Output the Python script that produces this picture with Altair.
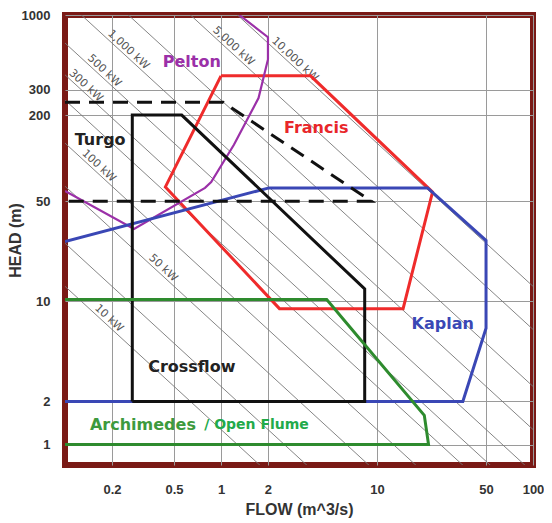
import altair as alt
import pandas as pd

# ---- turbine application envelopes (FLOW m^3/s, HEAD m) ----
pelton_q = [1.31, 2.0, 2.0, 1.74, 1.21, 0.865, 0.79, 0.277, 0.1]
pelton_h = [1000, 700, 489, 263, 124, 68, 62, 32, 59]
francis_q = [1.0, 3.75, 22.7, 14.7, 2.37, 0.44, 1.0]
francis_h = [376, 376, 58, 8.9, 8.9, 63, 376]
kaplan_q = [0.1, 35.5, 50, 50, 21.1, 2.03, 0.1]
kaplan_h = [2, 2, 6.5, 26.6, 62, 62, 26.2]
turgo_q = [0.1, 1.03, 9.2, 0.1]
turgo_h = [246, 246, 50, 50]
crossflow_q = [0.27, 0.27, 0.56, 8.34, 8.34, 0.27]
crossflow_h = [2, 200, 200, 12.2, 2, 2]
arch_q = [0.1, 4.76, 20.1, 21.4, 0.1]
arch_h = [10.3, 10.3, 1.6, 1.0, 1.0]

# ---- iso-power lines (kW) ----
power_kw = [10, 20, 50, 100, 200, 300, 500, 1000, 2000, 5000, 10000]
power_labels = ["10 kW", "50 kW", "100 kW", "300 kW", "500 kW", "1,000 kW", "5,000 kW", "10,000 kW"]
power_label_kw = [10, 50, 100, 300, 500, 1000, 5000, 10000]
power_label_q = [0.18, 0.40, 0.155, 0.128, 0.168, 0.24, 1.13, 2.8]
K = 9.81 * 0.8  # P = rho*g*Q*H*eta

# ---- turbine name labels ----
name_text = ["Pelton", "Francis", "Turgo", "Kaplan", "Crossflow", "Archimedes"]
name_q = [0.65, 4.08, 0.168, 26.4, 0.65, 0.316]
name_h = [466, 163, 133, 7.0, 3.5, 1.37]
name_color = ["#9b30a8", "#e8262a", "#222222", "#3a47b5", "#222222", "#3d9a3d"]

flume_text = ["/ Open Flume"]
flume_q = [0.78]
flume_h = [1.37]

x_ticks = [0.2, 0.5, 1, 2, 10, 50, 100]
y_ticks = [1, 2, 10, 50, 200, 300, 1000]

xs = alt.Scale(type="log", domain=[0.1, 100], nice=False)
ys = alt.Scale(type="log", domain=[0.72, 1000], nice=False)

common_axis = dict(
    domain=False, ticks=False, grid=True, gridColor="#9a9a9a", gridWidth=1,
    labelFont="Liberation Sans", labelFontWeight="bold", labelFontSize=13,
    labelColor="#333333", titleFont="Liberation Sans", titleFontWeight="bold",
    titleFontSize=16, titleColor="#333333", format="~g",
)
xax = alt.Axis(values=x_ticks, labelPadding=18, titleY=44, titleBaseline="middle",
               labelFlush=False, labelOverlap=False, **common_axis)
yax = alt.Axis(values=y_ticks, labelPadding=15, titleX=-50, titleAngle=270,
               titleBaseline="middle", labelFlush=False, labelOverlap=False, **common_axis)


def X(field="Q"):
    return alt.X(f"{field}:Q", scale=xs, axis=xax, title="FLOW (m^3/s)")


def Y(field="H"):
    return alt.Y(f"{field}:Q", scale=ys, axis=yax, title="HEAD (m)")


# power lines
rows = []
for p in power_kw:
    for i, q in enumerate([0.02, 500.0]):
        rows.append({"P": p, "Q": q, "H": p / (K * q), "o": i})
pdf = pd.DataFrame(rows)
power_lines = alt.Chart(pdf).mark_line(color="#777777", strokeWidth=0.9, clip=True).encode(
    x=X(), y=Y(), detail="P:N", order="o:Q"
)

plab = pd.DataFrame({
    "t": power_labels,
    "Q": power_label_q,
    "H": [p / (K * q) for p, q in zip(power_label_kw, power_label_q)],
})
power_text = alt.Chart(plab).mark_text(
    angle=43, font="DejaVu Sans", fontSize=11, color="#555555",
    baseline="bottom", align="center", dy=-1,
).encode(x=X(), y=Y(), text="t:N")


def shape(q, h, color, width=3, dash=None):
    df = pd.DataFrame({"Q": q, "H": h, "o": list(range(len(q)))})
    kw = dict(color=color, strokeWidth=width, clip=True, strokeJoin="miter")
    if dash:
        kw["strokeDash"] = dash
    return alt.Chart(df).mark_line(**kw).encode(x=X(), y=Y(), order="o:Q")


francis = shape(francis_q, francis_h, "#ef2b2b")
pelton = shape(pelton_q, pelton_h, "#9b30a8", width=2.2)
kaplan = shape(kaplan_q, kaplan_h, "#3a47b5")
turgo = shape(turgo_q, turgo_h, "#111111", dash=[15, 9])
crossflow = shape(crossflow_q, crossflow_h, "#111111")
arch = shape(arch_q, arch_h, "#2e8b2e")

ndf = pd.DataFrame({"t": name_text, "Q": name_q, "H": name_h, "c": name_color})
names = alt.Chart(ndf).mark_text(
    font="DejaVu Sans", fontWeight="bold", fontSize=16, align="center", baseline="middle"
).encode(x=X(), y=Y(), text="t:N", color=alt.Color("c:N", scale=None))

fdf = pd.DataFrame({"t": flume_text, "Q": flume_q, "H": flume_h})
flume = alt.Chart(fdf).mark_text(
    font="DejaVu Sans", fontWeight="bold", fontSize=14, align="left", baseline="middle",
    color="#22aa4a",
).encode(x=X(), y=Y(), text="t:N")

chart = alt.layer(
    power_lines, power_text, francis, pelton, kaplan, turgo, crossflow, arch, names, flume
).properties(
    width=468, height=450,
    autosize=alt.AutoSizeParams(type="none"),
    padding={"left": 57, "top": 7, "right": 11, "bottom": 55},
).configure_view(stroke="#7a1a16", strokeWidth=6)

chart.save("out.html", embed_options={"renderer": "svg", "actions": False})
